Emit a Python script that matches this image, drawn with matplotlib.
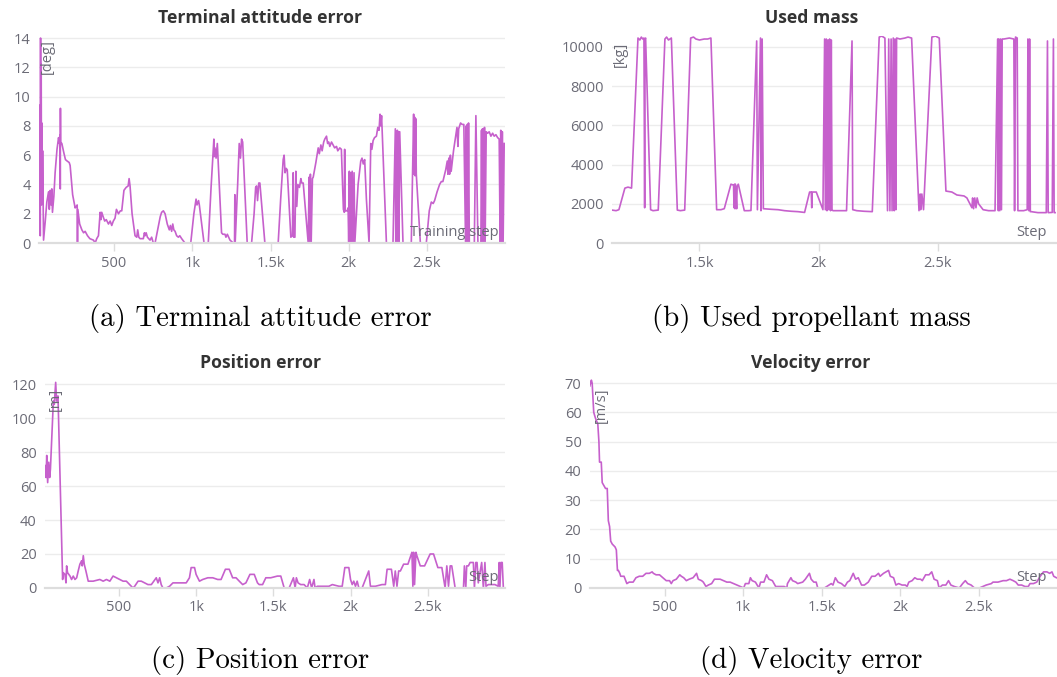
import matplotlib
matplotlib.use("Agg")
import matplotlib.pyplot as plt
from matplotlib.ticker import FuncFormatter

# ---- data (training step, value) ----
att_step = [21, 23, 26, 28, 30, 32, 34, 36, 38, 41, 43, 47, 49, 60, 70, 81, 86, 92, 97, 102,
            106, 115, 123, 135, 145, 150, 155, 156, 157, 158, 166, 178, 189, 200, 213, 219, 235, 251, 258, 264,
            266, 268, 280, 294, 305, 315, 330, 345, 368, 379, 389, 400, 411, 416, 421, 430, 440, 450, 464, 475,
            485, 495, 506, 515, 528, 540, 549, 563, 577, 590, 596, 602, 615, 634, 645, 651, 658, 666, 687, 694,
            698, 705, 713, 730, 740, 751, 762, 780, 795, 804, 815, 826, 840, 853, 860, 868, 875, 882, 890, 900,
            911, 920, 932, 953, 990, 1010, 1024, 1030, 1040, 1045, 1075, 1102, 1120, 1134, 1138, 1140, 1145, 1152, 1160, 1187,
            1195, 1209, 1215, 1224, 1241, 1262, 1270, 1272, 1274, 1290, 1300, 1308, 1315, 1322, 1351, 1379, 1395, 1405, 1411, 1417,
            1425, 1432, 1464, 1549, 1565, 1581, 1587, 1593, 1600, 1607, 1630, 1640, 1645, 1648, 1656, 1662, 1668, 1675, 1685, 1694,
            1700, 1709, 1713, 1741, 1747, 1750, 1755, 1760, 1768, 1773, 1790, 1805, 1812, 1822, 1830, 1840, 1847, 1858, 1865, 1872,
            1879, 1890, 1900, 1910, 1922, 1930, 1943, 1953, 1966, 1972, 1974, 1976, 1990, 1996, 2000, 2004, 2007, 2012, 2017, 2022,
            2028, 2034, 2039, 2060, 2077, 2085, 2093, 2102, 2113, 2130, 2141, 2148, 2156, 2165, 2177, 2186, 2194, 2200, 2205, 2210,
            2213, 2241, 2283, 2298, 2301, 2304, 2307, 2311, 2314, 2317, 2321, 2326, 2347, 2400, 2415, 2418, 2421, 2424, 2428, 2432,
            2458, 2496, 2515, 2528, 2540, 2549, 2565, 2581, 2592, 2602, 2620, 2630, 2634, 2640, 2645, 2650, 2655, 2670, 2687, 2692,
            2698, 2703, 2715, 2725, 2736, 2747, 2751, 2755, 2758, 2762, 2766, 2771, 2792, 2803, 2813, 2826, 2845, 2849, 2852, 2855,
            2858, 2861, 2864, 2868, 2872, 2879, 2888, 2898, 2909, 2920, 2930, 2941, 2952, 2962, 2968, 2972, 2977, 2982, 2987, 2994]
att_val = [9.4, 2.8, 9.2, 0.5, 14.0, 2.7, 12.2, 2.6, 8.2, 2.7, 6.3, 2.6, 0.2, 1.5, 2.8, 3.5, 2.3, 3.6, 2.6, 3.7,
           2.1, 3.2, 4.8, 6.4, 7.2, 6.8, 7.4, 3.7, 9.2, 6.9, 6.8, 6.2, 5.7, 5.6, 5.5, 5.3, 3.3, 2.4, 2.5, 2.6,
           0.0, 2.3, 1.3, 0.9, 0.7, 0.8, 0.5, 0.3, 0.2, 0.0, 0.3, 0.5, 2.1, 1.6, 2.1, 1.8, 1.5, 1.6, 1.3, 1.5,
           1.2, 1.5, 1.7, 2.3, 2.0, 2.2, 2.2, 3.6, 3.8, 3.9, 4.4, 3.9, 2.0, 0.5, 0.4, 0.9, 0.4, 0.3, 0.3, 0.7,
           0.5, 0.7, 0.4, 0.2, 0.4, 0.0, 0.0, 1.0, 1.8, 2.1, 2.2, 2.0, 1.3, 0.9, 1.2, 0.8, 1.3, 0.9, 0.8, 0.5,
           0.4, 0.5, 0.3, 0.0, 0.0, 2.0, 3.0, 2.6, 2.9, 2.6, 0.0, 0.0, 3.8, 6.3, 7.1, 5.9, 6.5, 5.8, 6.8, 0.7,
           0.6, 0.6, 0.4, 0.6, 0.2, 0.0, 0.0, 3.3, 0.0, 4.0, 6.8, 5.8, 7.1, 6.9, 0.0, 0.0, 2.0, 3.8, 3.9, 2.9,
           4.1, 4.1, 0.0, 0.0, 3.0, 5.7, 6.0, 4.8, 5.1, 5.0, 0.4, 0.5, 4.8, 0.4, 0.4, 4.9, 2.5, 4.0, 3.8, 4.4,
           4.1, 4.1, 3.6, 0.0, 4.5, 0.0, 4.7, 0.0, 4.4, 4.5, 5.5, 6.5, 6.1, 6.7, 6.3, 6.9, 7.1, 7.3, 6.8, 6.9,
           6.6, 6.9, 6.7, 6.5, 6.6, 6.3, 6.5, 6.4, 2.3, 2.1, 6.4, 2.2, 2.2, 2.4, 0.0, 4.9, 0.0, 4.8, 0.0, 4.9,
           0.0, 4.8, 0.0, 4.0, 5.6, 5.8, 5.4, 5.7, 3.0, 0.0, 6.8, 6.4, 7.0, 7.2, 7.3, 7.9, 7.7, 8.8, 8.0, 8.7,
           7.9, 0.0, 0.0, 7.8, 0.0, 7.6, 0.0, 7.7, 0.0, 7.6, 0.0, 7.6, 0.0, 0.0, 8.8, 4.7, 8.6, 4.6, 8.5, 4.7,
           0.0, 0.0, 2.2, 2.8, 2.7, 2.9, 3.5, 4.0, 4.2, 4.2, 5.0, 5.6, 4.7, 5.8, 4.7, 6.0, 4.9, 6.3, 7.5, 7.9,
           6.6, 7.8, 8.2, 8.1, 8.1, 0.0, 8.0, 0.0, 8.1, 0.0, 8.2, 0.0, 0.0, 0.0, 8.7, 0.0, 0.0, 7.7, 0.0, 7.8,
           0.0, 7.8, 0.0, 7.9, 0.0, 7.6, 7.5, 7.6, 7.3, 7.5, 7.3, 7.4, 7.2, 7.1, 0.0, 7.7, 0.0, 7.6, 0.0, 6.8]

mass_step = [1133, 1150, 1162, 1187, 1200, 1215, 1242, 1250, 1256, 1262, 1267, 1270, 1272, 1274, 1295, 1305, 1327, 1355, 1362, 1370,
             1382, 1407, 1420, 1438, 1463, 1475, 1485, 1500, 1520, 1534, 1548, 1572, 1590, 1604, 1632, 1643, 1645, 1647, 1649, 1651,
             1656, 1658, 1663, 1688, 1705, 1716, 1740, 1743, 1756, 1758, 1763, 1768, 1801, 1830, 1857, 1885, 1913, 1941, 1962, 1969,
             1971, 1973, 1990, 2018, 2025, 2028, 2032, 2035, 2039, 2043, 2046, 2050, 2053, 2056, 2060, 2088, 2117, 2140, 2143, 2160,
             2190, 2225, 2254, 2265, 2278, 2289, 2294, 2299, 2304, 2308, 2313, 2317, 2320, 2324, 2327, 2341, 2362, 2375, 2390, 2421,
             2426, 2428, 2433, 2440, 2475, 2490, 2506, 2534, 2559, 2580, 2610, 2622, 2643, 2646, 2650, 2655, 2660, 2665, 2671, 2690,
             2713, 2740, 2751, 2754, 2756, 2760, 2763, 2767, 2770, 2777, 2800, 2819, 2822, 2826, 2833, 2836, 2860, 2875, 2878, 2882,
             2885, 2888, 2892, 2920, 2938, 2955, 2960, 2963, 2980, 2985, 2988, 2992]
mass_val = [1680, 1650, 1700, 2800, 2850, 2800, 10450, 10350, 10500, 10400, 10450, 1800, 10400, 10450, 1700, 1650, 1680, 10400, 10500, 10350,
            10450, 1680, 1650, 1680, 10450, 10500, 10400, 10350, 10400, 10400, 10450, 1700, 1700, 1750, 3000, 2950, 1800, 3000, 1750, 3000,
            1750, 2900, 3000, 1650, 1650, 1660, 10300, 1700, 10450, 1650, 10400, 1750, 1720, 1700, 1650, 1620, 1600, 1560, 2600, 2600,
            1800, 2600, 2600, 1700, 10400, 1700, 10400, 1650, 10350, 1700, 10400, 1650, 10350, 1700, 1650, 1650, 1650, 10300, 1700, 1650,
            1620, 1600, 10500, 10550, 10450, 1650, 10400, 1650, 10400, 1650, 10450, 1650, 10400, 1700, 10450, 10400, 10450, 10500, 10450, 1650,
            2500, 1700, 2500, 1700, 10500, 10550, 10450, 2650, 2600, 2450, 2400, 2300, 1800, 2300, 1750, 2300, 1800, 2300, 2000, 1700,
            1650, 1650, 10400, 1650, 10400, 1650, 10400, 1700, 10400, 10400, 10450, 10400, 1650, 10500, 10450, 1650, 1650, 1700, 10400, 1650,
            10400, 1600, 1600, 1550, 1550, 1550, 10300, 1550, 1560, 10400, 1550, 1550]

pos_step = [20, 27, 31, 37, 44, 50, 55, 74, 80, 89, 95, 104, 134, 138, 149, 156, 160, 166, 182, 192,
            203, 214, 225, 235, 246, 257, 261, 268, 274, 285, 300, 332, 375, 397, 418, 440, 461, 483, 504, 526,
            547, 569, 590, 601, 623, 644, 666, 687, 709, 741, 752, 763, 773, 784, 806, 827, 849, 892, 935, 956,
            967, 989, 999, 1021, 1042, 1075, 1107, 1139, 1161, 1189, 1214, 1236, 1258, 1279, 1301, 1322, 1348, 1376, 1397, 1408,
            1430, 1451, 1483, 1526, 1548, 1570, 1602, 1630, 1641, 1649, 1660, 1677, 1699, 1720, 1735, 1748, 1763, 1770, 1785, 1806,
            1839, 1860, 1882, 1925, 1946, 1963, 1989, 2000, 2011, 2021, 2032, 2043, 2054, 2075, 2118, 2129, 2161, 2204, 2226, 2237,
            2265, 2280, 2290, 2301, 2312, 2323, 2344, 2372, 2398, 2404, 2409, 2415, 2424, 2430, 2452, 2480, 2516, 2538, 2566, 2592,
            2613, 2624, 2635, 2646, 2656, 2678, 2732, 2738, 2747, 2753, 2764, 2775, 2796, 2803, 2812, 2820, 2828, 2850, 2861, 2871,
            2878, 2893, 2936, 2957, 2964, 2968, 2975, 2983, 2990]
pos_val = [72, 65, 78, 62, 74, 65, 70, 110, 108, 121, 110, 113, 5, 9, 8, 3, 13, 9, 7, 5,
           7, 5, 6, 10, 14, 16, 13, 19, 14, 10, 4, 4, 5, 4, 5, 4, 7, 6, 5, 4,
           4, 2, 0, 1, 4, 4, 3, 2, 2, 6, 3, 6, 2, 0, 0, 1, 3, 3, 3, 6,
           12, 12, 8, 4, 5, 6, 6, 5, 5, 11, 11, 6, 6, 4, 2, 3, 8, 8, 3, 2,
           2, 6, 6, 7, 7, 0, 0, 6, 0, 6, 3, 2, 2, 0, 5, 0, 5, 0, 1, 1,
           1, 1, 2, 1, 1, 12, 12, 5, 2, 4, 1, 4, 0, 0, 10, 1, 1, 2, 2, 11,
           11, 1, 10, 1, 10, 10, 14, 14, 21, 1, 21, 2, 21, 19, 13, 13, 20, 20, 12, 12,
           0, 13, 1, 13, 13, 0, 0, 13, 0, 13, 13, 15, 15, 0, 15, 15, 3, 15, 0, 15,
           1, 2, 2, 1, 15, 0, 15, 15, 1]

vel_step = [24, 34, 39, 49, 60, 75, 82, 86, 97, 103, 124, 135, 142, 150, 157, 167, 185, 193, 200, 206,
            215, 221, 242, 249, 260, 275, 285, 300, 318, 339, 361, 382, 403, 421, 429, 446, 468, 489, 511, 532,
            543, 554, 575, 597, 607, 622, 639, 657, 682, 704, 715, 736, 747, 764, 779, 800, 818, 833, 854, 876,
            897, 918, 940, 961, 983, 1004, 1015, 1037, 1047, 1058, 1079, 1090, 1101, 1112, 1133, 1150, 1165, 1187, 1208, 1262,
            1279, 1283, 1305, 1315, 1337, 1348, 1380, 1397, 1423, 1434, 1451, 1466, 1476, 1519, 1547, 1562, 1573, 1588, 1605, 1627,
            1648, 1665, 1680, 1702, 1717, 1734, 1755, 1773, 1798, 1820, 1841, 1863, 1873, 1895, 1927, 1938, 1959, 1974, 1991, 2013,
            2034, 2045, 2056, 2077, 2094, 2110, 2131, 2142, 2163, 2185, 2202, 2217, 2238, 2249, 2270, 2292, 2309, 2324, 2346, 2378,
            2399, 2416, 2431, 2453, 2474, 2506, 2528, 2549, 2582, 2592, 2624, 2657, 2678, 2700, 2721, 2738, 2753, 2775, 2796, 2817,
            2828, 2850, 2871, 2893, 2914, 2936, 2953, 2968, 2979, 2996]
vel_val = [69, 71, 70, 60, 58, 56, 50, 43, 43, 36, 34, 34, 23, 21, 16, 15, 14, 13, 6, 6,
           5, 4, 4, 3, 1.5, 2, 2, 2, 3.5, 4, 4, 5, 5, 5.5, 5, 4.5, 4.5, 3.5, 2.5, 2.5,
           1.5, 2.5, 3, 4.5, 4, 3.5, 2.5, 3, 3.5, 5, 3, 2.5, 2, 0.5, 1, 1.5, 3, 3, 3, 2.5,
           2, 2, 1.5, 1, 0.5, 0, 1.5, 1.5, 3.5, 2.5, 2, 1, 0, 2, 2, 4.5, 3, 2.5, 0.5, 0.5,
           0, 1.5, 3.5, 2.5, 2, 1.5, 2, 3, 5, 3, 2, 2, 0, 0, 1, 1.5, 1, 3.5, 2, 1.5,
           0.5, 2, 2.5, 5, 3, 3.5, 1, 1, 2, 4, 4, 5, 4, 5, 6, 4, 3.5, 1, 1.5, 1,
           1, 0.5, 2, 2.5, 3.5, 3, 3, 2.5, 4.5, 4.5, 5.5, 3, 2.5, 0, 1, 1, 2.5, 1, 0.5, 0,
           1.5, 2.5, 1.5, 1, 0, 0, 0.5, 1, 1.5, 2, 2, 2.5, 2.5, 3, 2.5, 2, 1, 1, 0.5, 0.5,
           1.5, 1.5, 2, 4, 5.5, 5.5, 5, 5.5, 4, 3.5]

LINE = '#c660cc'
TXT = '#6b6b76'
plt.rcParams['font.family'] = ['Open Sans', 'DejaVu Sans']


def kfmt(v, pos):
    if v >= 1000:
        s = '%g' % (v / 1000.0)
        return s + 'k'
    return '%d' % v


def panel(rect, xs, ys, title, unit, xlabel, xlim, ylim, yticks, xticks,
          caption, cx, title_y, cap_y, unit_xy, xlab_xy):
    ax = fig.add_axes(rect)
    ax.plot(xs, ys, color=LINE, lw=1.2, clip_on=True)
    ax.set_xlim(*xlim)
    ax.set_ylim(*ylim)
    ax.set_yticks(yticks)
    ax.set_xticks(xticks)
    ax.xaxis.set_major_formatter(FuncFormatter(kfmt))
    ax.grid(axis='y', color='#ececec', lw=1.0)
    ax.set_axisbelow(True)
    for s in ['top', 'right', 'left']:
        ax.spines[s].set_visible(False)
    ax.spines['bottom'].set_color('#dddddd')
    ax.spines['bottom'].set_linewidth(1.6)
    ax.tick_params(axis='y', length=0, pad=6, labelsize=10.5, labelcolor=TXT)
    ax.tick_params(axis='x', length=6, width=1, color='#dddddd', pad=3, labelsize=10.5, labelcolor=TXT)
    fig.text(cx, title_y, title, ha='center', va='center', fontsize=12.7,
             fontweight='bold', color='#333333')
    ax.text(unit_xy[0], unit_xy[1], unit, transform=ax.transAxes, rotation=90,
            ha='center', va='top', fontsize=10.5, color=TXT)
    ax.text(xlab_xy[0], xlab_xy[1], xlabel, transform=ax.transAxes,
            ha='right', va='center', fontsize=10.5, color=TXT)
    fig.text(cx, cap_y, caption, ha='center', va='center', fontsize=20.8, family='cmr10')
    return ax


fig = plt.figure(figsize=(10.57, 6.77), dpi=100)

panel([0.0369, 0.641, 0.441, 0.306], att_step, att_val, 'Terminal attitude error', '[deg]', 'Training step',
      (20, 3000), (0, 14.15), [0, 2, 4, 6, 8, 10, 12, 14], [500, 1000, 1500, 2000, 2500],
      '(a) Terminal attitude error', 0.246, 0.973, 0.530, (0.017, 0.985), (0.985, 0.05))
panel([0.579, 0.641, 0.421, 0.306], mass_step, mass_val, 'Used mass', '[kg]', 'Step',
      (1133, 3000), (0, 10560), [0, 2000, 4000, 6000, 8000, 10000], [1500, 2000, 2500],
      '(b) Used propellant mass', 0.768, 0.973, 0.530, (0.018, 0.97), (0.978, 0.05))
panel([0.0426, 0.1315, 0.435, 0.31], pos_step, pos_val, 'Position error', '[m]', 'Step',
      (20, 3000), (0, 123.5), [0, 20, 40, 60, 80, 100, 120], [500, 1000, 1500, 2000, 2500],
      '(c) Position error', 0.246, 0.464, 0.024, (0.022, 0.955), (0.987, 0.05))
panel([0.558, 0.1315, 0.442, 0.31], vel_step, vel_val, 'Velocity error', '[m/s]', 'Step',
      (24, 3000), (0, 71.7), [0, 10, 20, 30, 40, 50, 60, 70], [500, 1000, 1500, 2000, 2500],
      '(d) Velocity error', 0.767, 0.464, 0.024, (0.024, 0.955), (0.979, 0.05))

fig.savefig('out.png', dpi=100)
